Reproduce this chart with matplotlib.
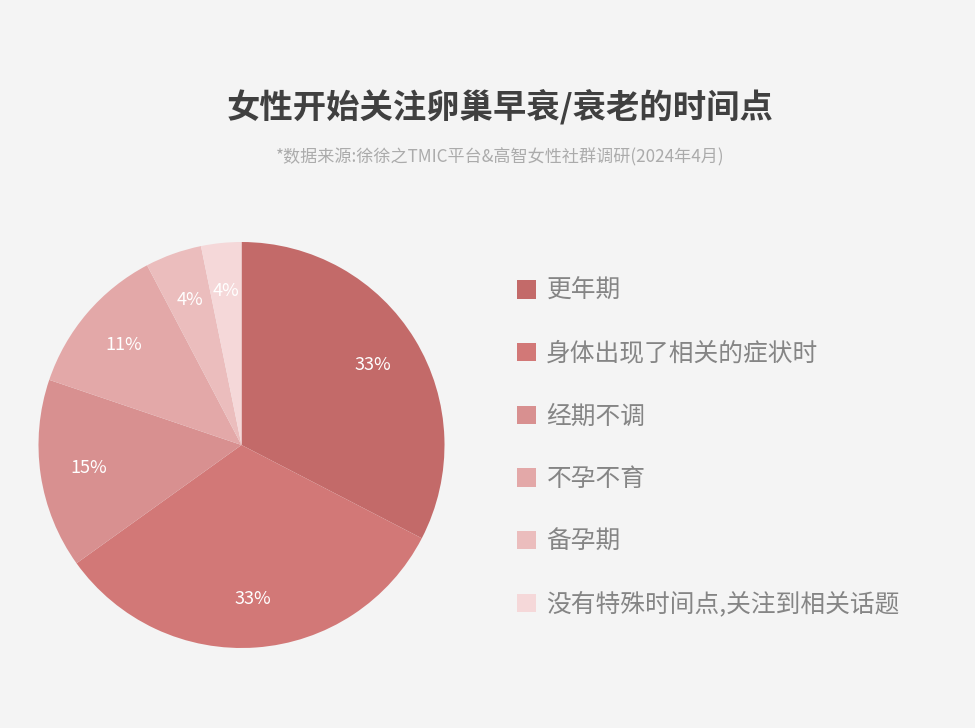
import matplotlib
matplotlib.use("Agg")
import matplotlib.pyplot as plt
import numpy as np

plt.rcParams['font.family'] = ['Noto Sans CJK SC', 'DejaVu Sans']

# datos
categorias = ['更年期', '身体出现了相关的症状时', '经期不调', '不孕不育', '备孕期',
              '没有特殊时间点,关注到相关话题']
valores = [32.6, 32.5, 15.1, 12.1, 4.5, 3.2]
etiquetas = ['33%', '33%', '15%', '11%', '4%', '4%']
colores = ['#C36A69', '#D27877', '#D89090', '#E3A8A8', '#EBBDBD', '#F5D8D9']

fondo = '#F4F4F4'

fig = plt.figure(figsize=(9.75, 7.28), dpi=100, facecolor=fondo)
ax = fig.add_axes([(241.5 - 203) / 975, (728 - 648) / 728, 406 / 975, 406 / 728])
ax.set_facecolor(fondo)

wedges, _ = ax.pie(valores, colors=colores, startangle=90, counterclock=False,
                   radius=1, wedgeprops=dict(linewidth=0))

# etiquetas de porcentaje
total = sum(valores)
acum = 0
for v, et in zip(valores, etiquetas):
    mid = 90 - (acum + v / 2) / total * 360
    acum += v
    r = 0.76
    ax.text(r * np.cos(np.radians(mid)), r * np.sin(np.radians(mid)), et,
            ha='center', va='center', color='white', fontsize=13)

ax.set_xlim(-1, 1)
ax.set_ylim(-1, 1)
ax.set_aspect('equal')
ax.axis('off')

leg = fig.legend(wedges, categorias, loc='upper left',
                 bbox_to_anchor=(517 / 975, 1 - 278 / 728),
                 frameon=False, fontsize=17.8, handlelength=0.77, handleheight=0.77,
                 handletextpad=0.42, labelspacing=1.485, borderpad=0, borderaxespad=0)
for t in leg.get_texts():
    t.set_color('#858585')

fig.text(500 / 975, 1 - 107 / 728, '女性开始关注卵巢早衰/衰老的时间点', ha='center', va='center',
         fontsize=24, fontweight='bold', color='#404040')
fig.text(500 / 975, 1 - 157 / 728, '*数据来源:徐徐之TMIC平台&高智女性社群调研(2024年4月)',
         ha='center', va='center', fontsize=12.3, color='#ABABAB')

fig.savefig('out.png', dpi=100, facecolor=fondo)
